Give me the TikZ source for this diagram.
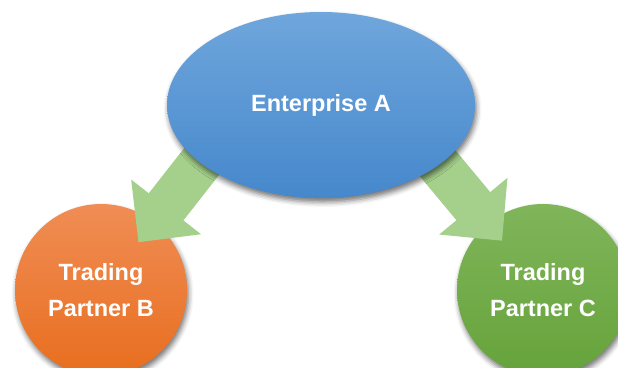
\documentclass[tikz,border=0pt]{standalone}
\usepackage{fontspec}
\setmainfont{Liberation Sans}
\usetikzlibrary{arrows.meta,shadows.blur,shapes.geometric}
\definecolor{elltop}{HTML}{6FA6DC}
\definecolor{ellbot}{HTML}{4688CC}
\definecolor{ortop}{HTML}{F08D55}
\definecolor{orbot}{HTML}{E86E1E}
\definecolor{grtop}{HTML}{80B55A}
\definecolor{grbot}{HTML}{66A33B}
\definecolor{arrowgreen}{HTML}{A5D08C}
\tikzset{
  label text/.style={text=white, font=\fontsize{23.5}{36}\selectfont\bfseries, align=center},
  softshadow/.style={blur shadow={shadow xshift=1.5pt, shadow yshift=-4pt, shadow blur radius=5pt, shadow opacity=55}},
  partner/.style={circle, minimum size=172pt, inner sep=0pt, softshadow, label text},
  bigarrow/.style={draw=arrowgreen, line width=44pt, -{Triangle[length=45pt, width=86pt]}, arrowgreen}
}
\begin{document}
\begin{tikzpicture}[x=1pt, y=-1pt]
\useasboundingbox (0,0) rectangle (618,367);
\clip (0,0) rectangle (618,367);
\node[partner, top color=ortop, bottom color=orbot] (B) at (101,290) {Trading\\Partner B};
\node[partner, top color=grtop, bottom color=grbot] (C) at (543,290) {Trading\\Partner C};
\coordinate (sB) at (231,124);
\coordinate (sC) at (410,130);
\draw[bigarrow, shorten >=60.6pt] (sB) -- (B.center);
\draw[bigarrow, shorten >=64pt] (sC) -- (C.center);
\node[ellipse, minimum width=308pt, minimum height=186pt, inner sep=0pt, top color=elltop, bottom color=ellbot, softshadow, label text] (A) at (321,105) {Enterprise A};
\end{tikzpicture}
\end{document}
